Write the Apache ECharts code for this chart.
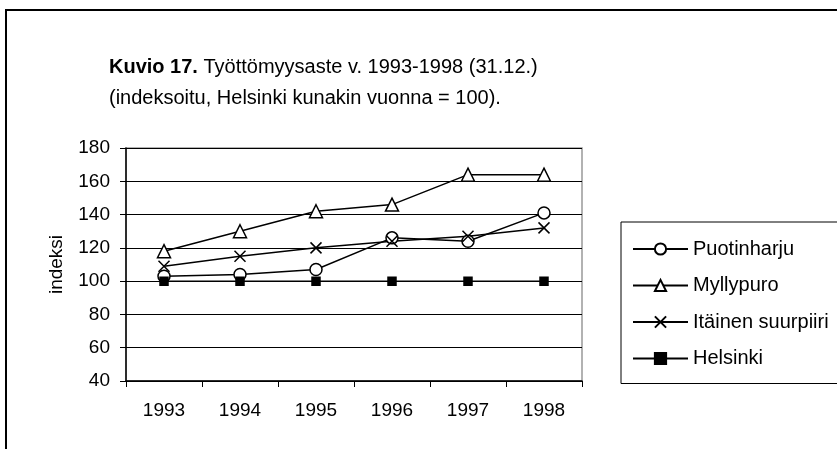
<!DOCTYPE html>
<html>
<head>
<meta charset="utf-8">
<script src="https://cdn.jsdelivr.net/npm/echarts@6/dist/echarts.min.js"></script>
<style>
  html, body { margin: 0; padding: 0; background: #fff; }
  #chart { width: 837px; height: 449px; }
</style>
</head>
<body>
<div id="chart"></div>
<script>
const years = ['1993', '1994', '1995', '1996', '1997', '1998']
const puotinharju = [103, 104, 107, 126, 124, 141]
const myllypuro = [118, 130, 142, 146, 164, 164]
const itainen = [109, 115, 120, 124, 127, 132]
const helsinki = [100, 100, 100, 100, 100, 100]

const font = 'Arial, "Liberation Sans", sans-serif'
const crossPath = 'path://M0,0L10,10M10,0L0,10'

const chart = echarts.init(document.getElementById('chart'))

function lineSeries(name, data, symbol, size, fill) {
    return {
        name: name,
        type: 'line',
        data: data,
        symbol: symbol,
        symbolSize: size,
        showSymbol: true,
        animation: false,
        lineStyle: { color: '#000', width: 1.5 },
        itemStyle: { color: fill, borderColor: '#000', borderWidth: 1.5 },
        emphasis: { disabled: true }
    }
}

chart.setOption({
    animation: false,
    textStyle: { fontFamily: font, color: '#000' },
    graphic: [{
        type: 'rect',
        shape: { x: 6, y: 10, width: 900, height: 500 },
        style: { fill: 'none', stroke: '#000', lineWidth: 2 },
        silent: true
    }],
    title: {
        left: 104,
        top: 47,
        text: '{b|Kuvio 17.} Työttömyysaste v. 1993-1998 (31.12.)\n(indeksoitu, Helsinki kunakin vuonna = 100).',
        textStyle: {
            fontFamily: font,
            fontSize: 20,
            fontWeight: 'normal',
            color: '#000',
            lineHeight: 31,
            rich: {
                b: { fontFamily: font, fontSize: 20, fontWeight: 'bold', color: '#000', lineHeight: 31 }
            }
        }
    },
    grid: {
        left: 126,
        top: 148,
        width: 456,
        height: 233,
        show: true,
        borderColor: '#999',
        borderWidth: 1.5,
        containLabel: false
    },
    legend: {
        orient: 'vertical',
        left: 621,
        top: 222,
        padding: [16, 60, 14, 11],
        itemGap: 14.5,
        itemWidth: 55,
        itemHeight: 14,
        borderColor: '#000',
        borderWidth: 1,
        textStyle: { fontFamily: font, fontSize: 20, lineHeight: 22, color: '#000' },
        data: ['Puotinharju', 'Myllypuro', 'Itäinen suurpiiri', 'Helsinki']
    },
    xAxis: {
        type: 'category',
        data: years,
        boundaryGap: true,
        axisLine: { lineStyle: { color: '#000', width: 1.5 } },
        axisTick: { show: true, length: 6, inside: false, lineStyle: { color: '#000' } },
        axisLabel: { fontFamily: font, fontSize: 19, color: '#000', margin: 20 },
        splitLine: { show: false }
    },
    yAxis: {
        type: 'value',
        min: 40,
        max: 180,
        interval: 20,
        name: 'indeksi',
        nameLocation: 'middle',
        nameGap: 60,
        nameRotate: 90,
        nameTextStyle: { fontFamily: font, fontSize: 19, color: '#000' },
        axisLine: { show: true, lineStyle: { color: '#000', width: 1.5 } },
        axisTick: { show: true, length: 6, lineStyle: { color: '#000' } },
        axisLabel: { fontFamily: font, fontSize: 19, color: '#000', margin: 16 },
        splitLine: { show: true, lineStyle: { color: '#000', width: 1 } }
    },
    series: [
        lineSeries('Puotinharju', puotinharju, 'circle', 12, '#fff'),
        lineSeries('Myllypuro', myllypuro, 'triangle', 13, '#fff'),
        lineSeries('Itäinen suurpiiri', itainen, crossPath, 11, '#000'),
        lineSeries('Helsinki', helsinki, 'rect', 8, '#000')
    ]
})
</script>
</body>
</html>
